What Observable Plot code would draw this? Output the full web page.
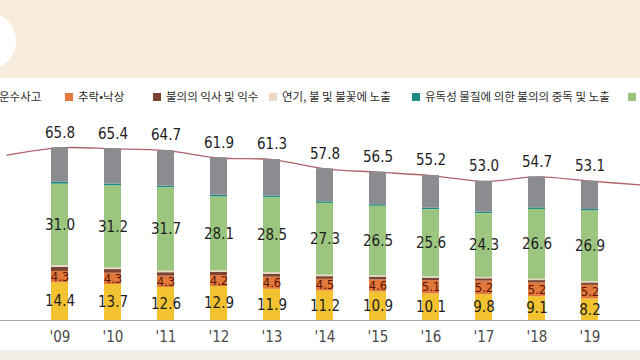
<!DOCTYPE html>
<html><head><meta charset="utf-8">
<script src="https://cdn.jsdelivr.net/npm/d3@7"></script>
<script src="https://cdn.jsdelivr.net/npm/@observablehq/plot@0.6"></script>
<style>
html,body{margin:0;padding:0;background:#fff;}
#page{position:relative;width:640px;height:360px;overflow:hidden;background:#fff;font-family:"Noto Sans CJK KR","Noto Sans",sans-serif;}
#band{position:absolute;left:0;top:0;width:640px;height:78px;background:#f8eddc;}
#circle{position:absolute;left:-42px;top:12px;width:58px;height:58px;border-radius:50%;background:#fff;}
#legend{position:absolute;left:0;top:88px;width:640px;height:18px;white-space:nowrap;font-size:11.5px;color:#2e2e2e;overflow:hidden;}
#legend span.item{position:absolute;top:0;}
#legend i{display:inline-block;width:8px;height:8px;margin-right:5px;vertical-align:0px;}
#chart{position:absolute;left:0;top:110px;width:640px;height:240px;overflow:hidden;}
#foot{position:absolute;left:0;top:350px;width:640px;height:10px;background:#f3eee6;}
</style></head>
<body><div id="page"><div id="band"><div id="circle"></div></div><div id="legend"></div><div id="chart"></div><div id="foot"></div></div>
<script>
const years = ["'09","'10","'11","'12","'13","'14","'15","'16","'17","'18","'19"];
const allYears = ["'08", ...years, "'20"];
const totals = [63.0, 65.8, 65.4, 64.7, 61.9, 61.3, 57.8, 56.5, 55.2, 53.0, 54.7, 53.1, 51.6];
const transport = [14.4, 13.7, 12.6, 12.9, 11.9, 11.2, 10.9, 10.1, 9.8, 9.1, 8.2];
const falls = [4.3, 4.3, 4.3, 4.2, 4.6, 4.5, 4.6, 5.1, 5.2, 5.2, 5.2];
const drowning = [1.5, 1.4, 1.3, 1.2, 1.1, 1.0, 1.0, 0.9, 0.9, 0.9, 0.9];
const fire = [0.7, 0.6, 0.6, 0.6, 0.6, 0.6, 0.5, 0.5, 0.5, 0.5, 0.5];
const suicide = [31.0, 31.2, 31.7, 28.1, 28.5, 27.3, 26.5, 25.6, 24.3, 26.6, 26.9];
const poisoning = [0.8, 0.8, 0.7, 0.7, 0.7, 0.6, 0.6, 0.6, 0.6, 0.6, 0.6];
const other = [13.1, 13.4, 13.5, 14.2, 13.9, 12.6, 12.4, 12.4, 11.7, 11.8, 10.8];

const seriesNames = ["운수사고","추락•낙상","불의의 익사 및 익수","연기, 불 및 불꽃에 노출","유독성 물질에 의한 불의의 중독 및 노출","고의적 자해(자살)","기타"];
const seriesColors = ["#f2c230","#e2793a","#7b4432","#ead8c3","#1b8b80","#9cc680","#8b8c90"];
const seriesValues = [transport, falls, drowning, fire, poisoning, suicide, other];
const stackOrder = ["운수사고","추락•낙상","불의의 익사 및 익수","연기, 불 및 불꽃에 노출","고의적 자해(자살)","유독성 물질에 의한 불의의 중독 및 노출","기타"];
const labeled = new Set(["운수사고","추락•낙상","고의적 자해(자살)"]);
const legendLeft = [-14, 65, 153, 269, 412, 628, 760];

// legend
const leg = document.getElementById("legend");
seriesNames.forEach((n,i)=>{
  const s = document.createElement("span"); s.className="item";
  s.style.left = legendLeft[i] + "px";
  s.innerHTML = `<i style="background:${seriesColors[i]}"></i>${n}`;
  leg.appendChild(s);
});

const rows = [];
years.forEach((y,j)=>seriesNames.forEach((n,i)=>rows.push({year:y, series:n, value:seriesValues[i][j]})));
const totalRows = allYears.map((y,i)=>({year:y, total:totals[i]}));
const numFont = "'DejaVu Sans Condensed','Liberation Sans Narrow',Arial,sans-serif";

const plot = Plot.plot({
  width: 640, height: 240,
  marginTop: 0, marginBottom: 30, marginLeft: 0, marginRight: 0,
  style: {background: "transparent", overflow: "visible"},
  x: {type: "band", domain: allYears, range: [-40, 689], padding: 0.68, axis: null},
  y: {domain: [0, 80], axis: null},
  color: {domain: seriesNames, range: seriesColors},
  marks: [
    Plot.line(totalRows, {x: "year", y: "total", stroke: "#b0626a", strokeWidth: 1.3, curve: "catmull-rom"}),
    Plot.barY(rows, {x: "year", y: "value", fill: "series", order: stackOrder}),
    Plot.ruleY([0], {stroke: "#a8a8a8", strokeWidth: 1}),
    Plot.text(rows, Plot.stackY({x: "year", y: "value", z: "series", order: stackOrder,
      text: d => labeled.has(d.series) ? d.value.toFixed(1) : null,
      fill: d => d.series === "추락•낙상" ? "#5a1408" : "#1e1e1e",
      fontSize: d => d.series === "추락•낙상" ? 13 : 15, fontFamily: numFont})),
    Plot.text(totalRows.filter(d => years.includes(d.year)), {x: "year", y: "total", text: d => d.total.toFixed(1), dy: -15, fontSize: 15, fill: "#1e1e1e", fontFamily: numFont}),
    Plot.axisX({ticks: years, tickSize: 0, tickPadding: 11, fontSize: 15, fill: "#4a4a4a", fontFamily: numFont, label: null})
  ]
});
document.getElementById("chart").appendChild(plot);
</script></body></html>
